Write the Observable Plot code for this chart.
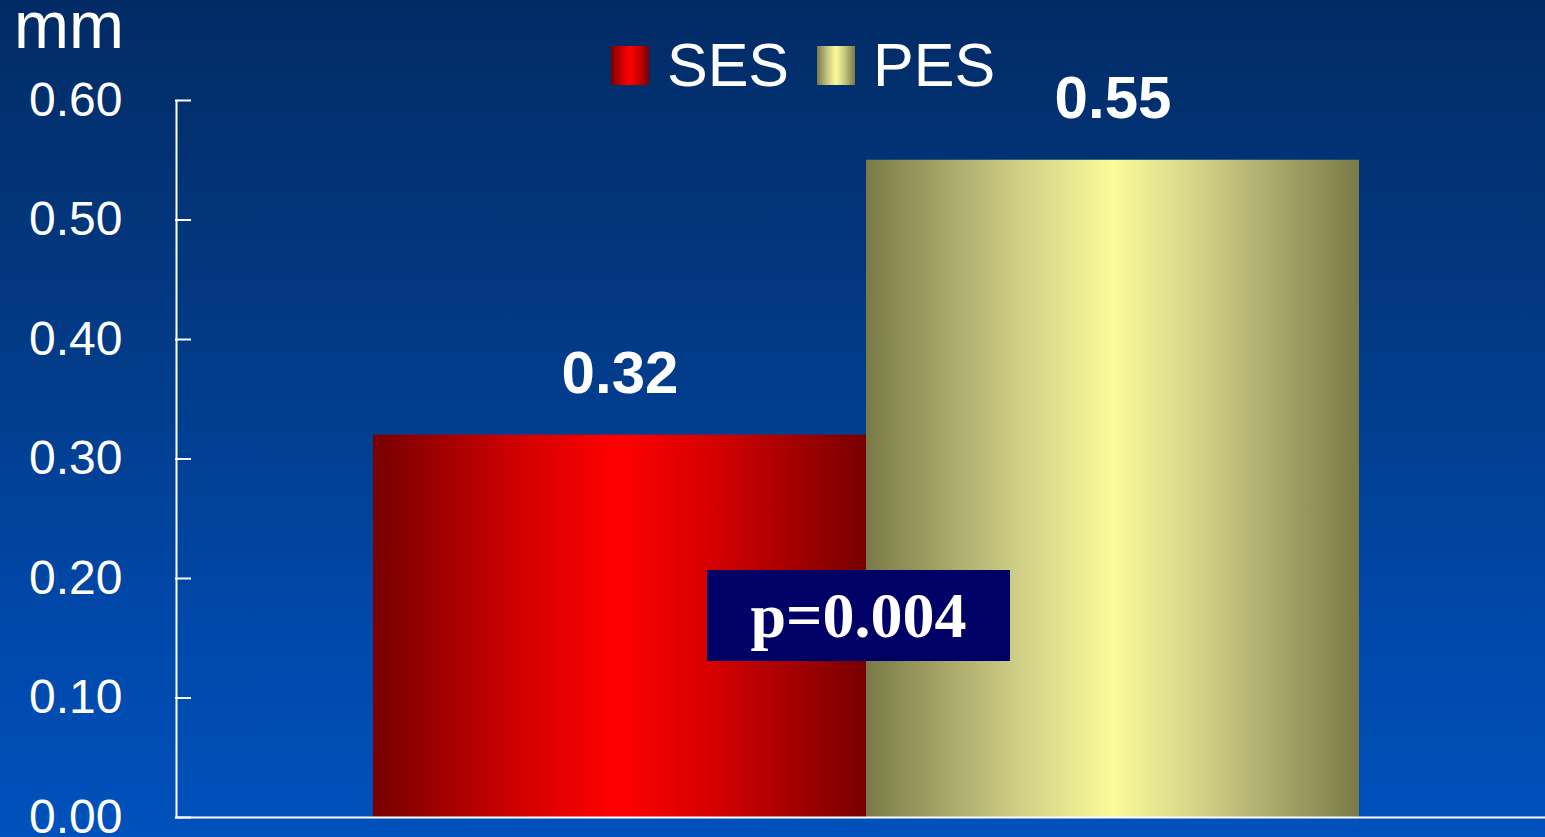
<!DOCTYPE html>
<html>
<head>
<meta charset="utf-8">
<script src="https://cdn.jsdelivr.net/npm/d3@7"></script>
<script src="https://cdn.jsdelivr.net/npm/@observablehq/plot@0.6"></script>
<style>
  html, body { margin: 0; padding: 0; }
  body { width: 1545px; height: 837px; overflow: hidden; }
  #wrap {
    position: relative; width: 1545px; height: 837px;
    background: linear-gradient(to bottom, #022b65 0%, #023a85 40%, #0048aa 75%, #0051bc 100%);
    font-family: Arial, "Liberation Sans", sans-serif; color: #fff;
  }
  #unit { position: absolute; left: 14px; top: -8px; font-size: 66px; line-height: 1; }
  #legend { position: absolute; left: 611px; top: 35px; display: flex; align-items: center; font-size: 61px; line-height: 1; }
  .sw { width: 38px; height: 39px; display: inline-block; margin-right: 18px; }
  .lab { margin-right: 28px; }
  #pbox {
    position: absolute; left: 707px; top: 570px; width: 303px; height: 91px;
    background: #000066; color: #fff; display: flex; align-items: center; justify-content: center;
    font-family: "Liberation Serif", "Times New Roman", serif; font-weight: bold; font-size: 64px;
  }
  svg { position: absolute; left: 0; top: 0; background: transparent; }
</style>
</head>
<body>
<div id="wrap">
  <div id="chart"></div>
  <div id="unit">mm</div>
  <div id="legend"></div>
  <div id="pbox">p=0.004</div>
</div>
<script>
// Data
const categories = ["SES", "PES"];
const values = [0.32, 0.55];
const labels = ["0.32", "0.55"];
const yTicks = [0, 0.1, 0.2, 0.3, 0.4, 0.5, 0.6];
const pValueText = "p=0.004";

// Gradient stops for each series (edge, mid, center)
const gradients = {
  SES: ["#780000", "#d80000", "#ff0000"],
  PES: ["#7a7a48", "#d2d288", "#fbfb99"]
};

const data = categories.map((c, i) => ({cat: c, value: values[i], label: labels[i]}));

function defs() {
  const d = d3.create("svg:defs");
  for (const c of categories) {
    const [e, m, ctr] = gradients[c];
    const g = d.append("linearGradient").attr("id", "grad-" + c)
      .attr("x1", 0).attr("x2", 1).attr("y1", 0).attr("y2", 0);
    g.append("stop").attr("offset", "0%").attr("stop-color", e);
    g.append("stop").attr("offset", "32%").attr("stop-color", m);
    g.append("stop").attr("offset", "50%").attr("stop-color", ctr);
    g.append("stop").attr("offset", "68%").attr("stop-color", m);
    g.append("stop").attr("offset", "100%").attr("stop-color", e);
  }
  return d.node();
}

const chart = Plot.plot({
  width: 1545,
  height: 837,
  marginLeft: 175,
  marginRight: 0,
  marginTop: 100,
  marginBottom: 20,
  style: {background: "transparent", color: "white", fontFamily: "Arial, 'Liberation Sans', sans-serif", overflow: "visible"},
  x: {type: "band", domain: categories, paddingInner: 0, paddingOuter: 0.388, align: 0.5144, axis: null},
  y: {domain: [0, 0.6], axis: null},
  marks: [
    defs,
    Plot.barY(data, {x: "cat", y: "value", fill: d => "url(#grad-" + d.cat + ")"}),
    Plot.axisY(yTicks, {tickSize: 0, tickPadding: 53, tickFormat: d3.format(".2f"), fontSize: 48, fill: "white", label: null}),
    Plot.tickY(yTicks, {y: d => d, stroke: "white", strokeWidth: 2, insetRight: 1370 - 16}),
    Plot.ruleX([{}], {x: null, y1: () => 0, y2: () => 0.6, stroke: "white", strokeWidth: 2, dx: -684}),
    Plot.ruleY([0], {stroke: "white", strokeWidth: 2}),
    Plot.text(data, {x: "cat", y: "value", text: "label", dy: -61, fill: "white", fontSize: 60, fontWeight: "bold"})
  ]
});
document.getElementById("chart").appendChild(chart);

// Legend
const leg = document.getElementById("legend");
categories.forEach(c => {
  const [e, m, ctr] = gradients[c];
  const sw = document.createElement("span");
  sw.className = "sw";
  sw.style.background = `linear-gradient(to right, ${e} 0%, ${m} 32%, ${ctr} 50%, ${m} 68%, ${e} 100%)`;
  const t = document.createElement("span");
  t.className = "lab";
  t.textContent = c;
  leg.appendChild(sw);
  leg.appendChild(t);
});
document.getElementById("pbox").textContent = pValueText;
</script>
</body>
</html>
